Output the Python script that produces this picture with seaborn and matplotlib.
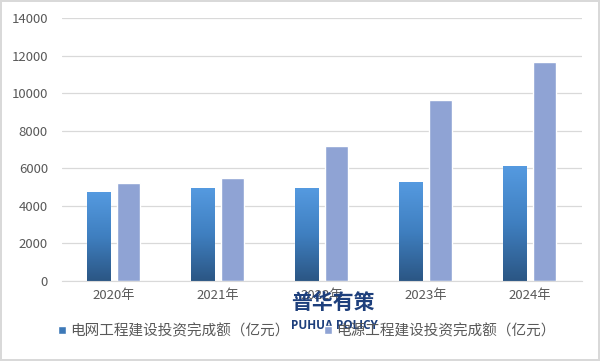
import numpy as np
import pandas as pd
import matplotlib
matplotlib.use('Agg')
import matplotlib.pyplot as plt
from matplotlib.colors import LinearSegmentedColormap
from matplotlib.patches import Patch
import seaborn as sns

years = ['2020年', '2021年', '2022年', '2023年', '2024年']
grid_invest = [4700, 4900, 4950, 5250, 6100]
power_invest = [5200, 5500, 7200, 9650, 11650]
series_names = ['电网工程建设投资完成额（亿元）', '电源工程建设投资完成额（亿元）']

sns.set_style('white')
plt.rcParams['font.family'] = ['Noto Sans CJK SC', 'DejaVu Sans']

df = pd.DataFrame({
    'year': years * 2,
    'value': grid_invest + power_invest,
    'series': [series_names[0]] * 5 + [series_names[1]] * 5,
})

fig = plt.figure(figsize=(6, 3.61), dpi=100)
ax = fig.add_axes([0.103, 0.2216, 0.867, 0.7284])

sns.barplot(data=df, x='year', y='value', hue='series', ax=ax,
            palette=['#3d79b8', '#8fa3d4'], width=0.577, gap=0.233,
            saturation=1, legend=False)

# gradient fill for the first series
cmap = LinearSegmentedColormap.from_list('blues', ['#2b5684', '#3f7fc0', '#559ae0'])
grad = np.linspace(0, 1, 256).reshape(-1, 1)
for p in ax.containers[0]:
    x0, y0 = p.get_x(), p.get_y()
    w, h = p.get_width(), p.get_height()
    p.set_facecolor('none')
    ax.imshow(grad, extent=[x0, x0 + w, y0, y0 + h], origin='lower',
              cmap=cmap, aspect='auto', zorder=p.get_zorder())

ax.set_xlim(-0.5, 4.5)
ax.set_ylim(0, 14000)
ax.set_yticks(range(0, 14001, 2000))
ax.yaxis.grid(True, color='#d9d9d9', linewidth=0.9)
ax.set_axisbelow(True)
for s in ['top', 'right', 'left']:
    ax.spines[s].set_visible(False)
ax.spines['bottom'].set_color('#d9d9d9')
ax.set_xlabel('')
ax.set_ylabel('')
ax.tick_params(axis='both', length=0, labelsize=9.5, colors='#595959', pad=6)
ax.tick_params(axis='y', pad=10)

handles = [Patch(facecolor='#3d79b8', label=series_names[0]),
           Patch(facecolor='#8fa3d4', label=series_names[1])]
fig.legend(handles=handles, loc='center left', bbox_to_anchor=(0.08, 0.083),
           ncol=2, frameon=False, fontsize=10.5, labelcolor='#595959',
           handlelength=0.5, handleheight=0.5, handletextpad=0.3,
           columnspacing=2.4, borderpad=0.2)

# watermark
fig.text(0.555, 0.163, '普华有策', ha='center', va='center', fontsize=15,
         fontweight='bold', color='#1d3f7c')
fig.text(0.558, 0.097, 'PUHUA POLICY', ha='center', va='center', fontsize=8.5,
         fontweight='bold', color='#1d3f7c', family=['Open Sans', 'DejaVu Sans'])

fig.patch.set_edgecolor('#d9d9d9')
fig.patch.set_linewidth(1.5)

fig.savefig('out.png', dpi=100)
